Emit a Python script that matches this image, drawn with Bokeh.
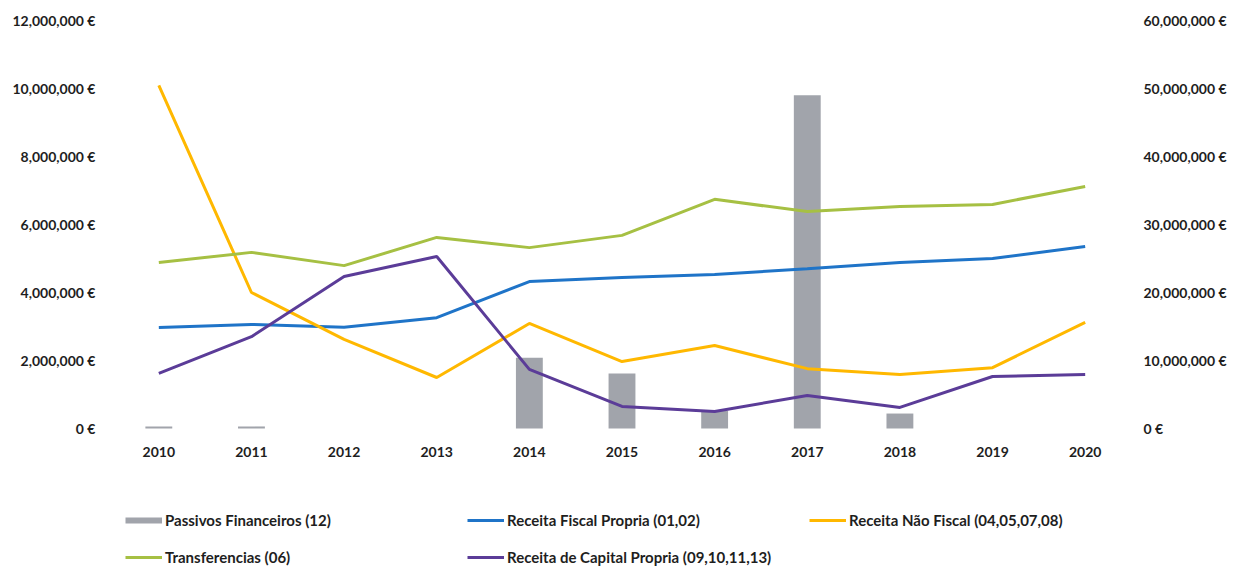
from bokeh.plotting import figure
from bokeh.models import (Range1d, LinearAxis, FixedTicker, CustomJSTickFormatter,
                          Legend, LegendItem, ColumnDataSource)
from bokeh.core.properties import value
from bokeh.embed import file_html
from bokeh.resources import INLINE

years = [2010, 2011, 2012, 2013, 2014, 2015, 2016, 2017, 2018, 2019, 2020]
passivos_financeiros = [0.3e6, 0.3e6, 0, 0, 10.4e6, 8.1e6, 2.6e6, 49.0e6, 2.2e6, 0, 0]
receita_fiscal = [2.97e6, 3.06e6, 2.98e6, 3.26e6, 4.32e6, 4.44e6, 4.53e6, 4.70e6, 4.88e6, 5.00e6, 5.35e6]
receita_nao_fiscal = [10.09e6, 4.00e6, 2.62e6, 1.50e6, 3.09e6, 1.97e6, 2.44e6, 1.76e6, 1.59e6, 1.79e6, 3.12e6]
transferencias = [4.88e6, 5.18e6, 4.79e6, 5.62e6, 5.32e6, 5.68e6, 6.74e6, 6.38e6, 6.53e6, 6.59e6, 7.12e6]
receita_capital = [1.62e6, 2.70e6, 4.47e6, 5.06e6, 1.74e6, 0.65e6, 0.50e6, 0.97e6, 0.62e6, 1.53e6, 1.59e6]

left_ticks = [0, 2e6, 4e6, 6e6, 8e6, 10e6, 12e6]
right_ticks = [0, 10e6, 20e6, 30e6, 40e6, 50e6, 60e6]

names = ["Passivos Financeiros (12)", "Receita Fiscal Propria (01,02)",
         "Receita Não Fiscal (04,05,07,08)", "Transferencias (06)",
         "Receita de Capital Propria (09,10,11,13)"]

C_GREY = "#a1a4ab"
C_BLUE = "#1f74c8"
C_YEL = "#ffb800"
C_GREEN = "#a6c043"
C_PURP = "#5b3c98"
FONT = "Lato"
TXT = "#1e1e1e"

# layout (pixels): value area 408 px tall, 138 px of room below it for labels + legend
H_PLOT, H_BELOW = 408, 138
L_MAX, R_MAX = 12e6, 60e6
l_min = -H_BELOW / H_PLOT * L_MAX
r_min = -H_BELOW / H_PLOT * R_MAX

p = figure(width=1235, height=566, output_backend="svg", toolbar_location=None,
           x_range=Range1d(2009.5, 2020.5), y_range=Range1d(l_min, L_MAX),
           min_border_left=112, min_border_right=104, min_border_top=20, min_border_bottom=0)
p.extra_y_ranges = {"right": Range1d(r_min, R_MAX)}
p.outline_line_color = None
p.grid.visible = False
p.background_fill_color = "white"
p.border_fill_color = "white"
p.xaxis.visible = False

src = ColumnDataSource(dict(x=years, pf=passivos_financeiros, rf=receita_fiscal,
                            rn=receita_nao_fiscal, tr=transferencias, rc=receita_capital,
                            lab=[str(y) for y in years]))

r_bar = p.vbar(x="x", top="pf", bottom=0, width=0.29, source=src, y_range_name="right",
               fill_color=C_GREY, line_color=None)
r_rf = p.line("x", "rf", source=src, line_color=C_BLUE, line_width=3)
r_rn = p.line("x", "rn", source=src, line_color=C_YEL, line_width=3)
r_tr = p.line("x", "tr", source=src, line_color=C_GREEN, line_width=3)
r_rc = p.line("x", "rc", source=src, line_color=C_PURP, line_width=3)
# legend proxy for the bar series (a zero-length segment, draws nothing in the plot)
r_pf = p.line(x=[years[0], years[0]], y=[0, 0], line_color=C_GREY, line_width=6)

# category labels under the value area
lab_y = -23 / H_PLOT * L_MAX
p.text(x="x", y=lab_y, text="lab", source=src, text_align="center", text_baseline="middle",
       text_font=value(FONT), text_font_size="14px", text_font_style="bold", text_color=TXT)

fmt = CustomJSTickFormatter(code="return tick.toLocaleString('en-US') + ' \u20ac';")

p.yaxis.ticker = FixedTicker(ticks=left_ticks)
p.yaxis.formatter = fmt
ax_r = LinearAxis(y_range_name="right", ticker=FixedTicker(ticks=right_ticks), formatter=fmt)
p.add_layout(ax_r, "right")

for ax in p.yaxis:
    ax.axis_line_color = None
    ax.major_tick_line_color = None
    ax.minor_tick_line_color = None
    ax.major_tick_out = 0
    ax.major_tick_in = 0
    ax.minor_tick_out = 0
    ax.major_label_text_font = FONT
    ax.major_label_text_font_size = "14px"
    ax.major_label_text_font_style = "bold"
    ax.major_label_text_color = TXT
p.yaxis[0].major_label_standoff = 17
ax_r.major_label_standoff = 12

def make_leg(items, y):
    lg = Legend(items=items, location=(13, y),
                orientation="horizontal", padding=0, margin=0, spacing=0,
                glyph_width=37, glyph_height=16, label_height=16, label_width=302,
                label_standoff=3,
                label_text_font=FONT, label_text_font_size="15px",
                label_text_font_style="bold", label_text_color=TXT,
                background_fill_alpha=0, border_line_color=None)
    p.add_layout(lg, "center")

make_leg([LegendItem(label=names[0], renderers=[r_pf]),
          LegendItem(label=names[1], renderers=[r_rf]),
          LegendItem(label=names[2], renderers=[r_rn])], 37)
make_leg([LegendItem(label=names[3], renderers=[r_tr]),
          LegendItem(label=names[4], renderers=[r_rc])], 0)

open("out.html", "w").write(file_html(p, INLINE))
